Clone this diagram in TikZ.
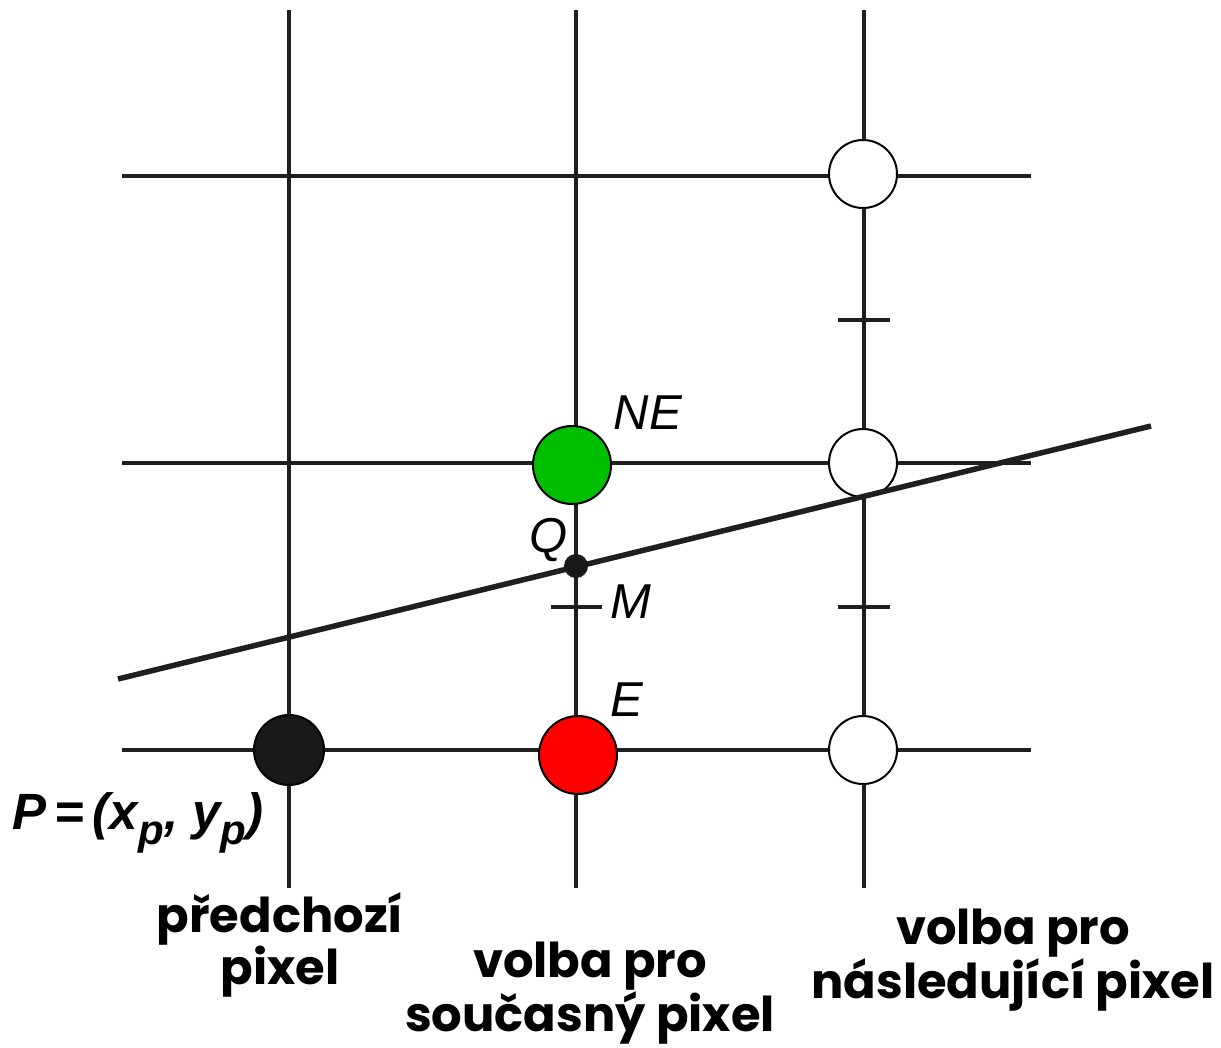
\documentclass[tikz,border=0pt]{standalone}
\usepackage{fontspec}
\setmainfont{Liberation Sans}
\newfontfamily\labelfont{Poppins}
\usetikzlibrary{calc}

\begin{document}
\begin{tikzpicture}[x=1pt,y=-1pt,
    gridline/.style={line width=3.2pt,color=black!88},
    pixel/.style={circle,draw,line width=2pt,inner sep=0pt},
    ptlabel/.style={font=\fontsize{49}{55}\selectfont\itshape,inner sep=0pt},
    caption/.style={font=\labelfont\bfseries\fontsize{48}{47}\selectfont,align=center,inner sep=0pt}]
    \useasboundingbox (0,0) rectangle (1221,1047); % keeps the margins

    % the grid
    \foreach \x in {289,576,864}{
        \draw[gridline] (\x,10) -- (\x,888);
    }
    \foreach \y in {176,463,750}{
        \draw[gridline] (122,\y) -- (1031,\y);
    }

    % half-way marks
    \coordinate (M) at (576,607);
    \draw[gridline] ($(M)+(-25,0)$) -- ($(M)+(26,0)$);
    \foreach \y in {320,607}{
        \draw[gridline] (838,\y) -- (890,\y);
    }

    % pixels
    \node[pixel,fill=black!90,minimum size=70pt] (P) at (289,750) {};
    \node[pixel,fill=red,minimum size=78pt] (E) at (578,755) {};
    \node[pixel,fill=green!75!black,minimum size=78pt] (NE) at (572,465) {};
    \foreach \y/\name in {174/top,463/mid,750/low}{
        \node[pixel,fill=white,minimum size=68pt] (\name) at (863,\y) {};
    }

    % the line and its crossing
    \coordinate (start) at (118,679);
    \coordinate (end) at (1151,426);
    \draw[line width=5.5pt,color=black!88] (start) -- (end);
    \node[circle,fill=black!90,inner sep=0pt,minimum size=24pt] (Q) at (576,566) {};

    % labels
    \node[ptlabel] (NElabel) at (648,413) {NE};
    \node[ptlabel] (Elabel) at (627,700) {E};
    \node[ptlabel] (Mlabel) at (631,602) {M};
    \node[ptlabel] (Qlabel) at (549,540) {Q};
    \node[font=\fontsize{51}{56}\selectfont\bfseries\itshape,anchor=west,inner sep=0pt] (Plabel) at (12,823)
        {P\,=\,(x\raisebox{-0.3em}{\fontsize{42}{42}\selectfont p}, y\raisebox{-0.3em}{\fontsize{42}{42}\selectfont p})};

    \node[caption] (prevtext) at (280,945) {předchozí\\pixel};
    \node[caption] (currtext) at (590,993) {volba pro\\současný pixel};
    \node[caption] (nexttext) at (1013,960) {volba pro\\následující pixel};
\end{tikzpicture}
\end{document}
